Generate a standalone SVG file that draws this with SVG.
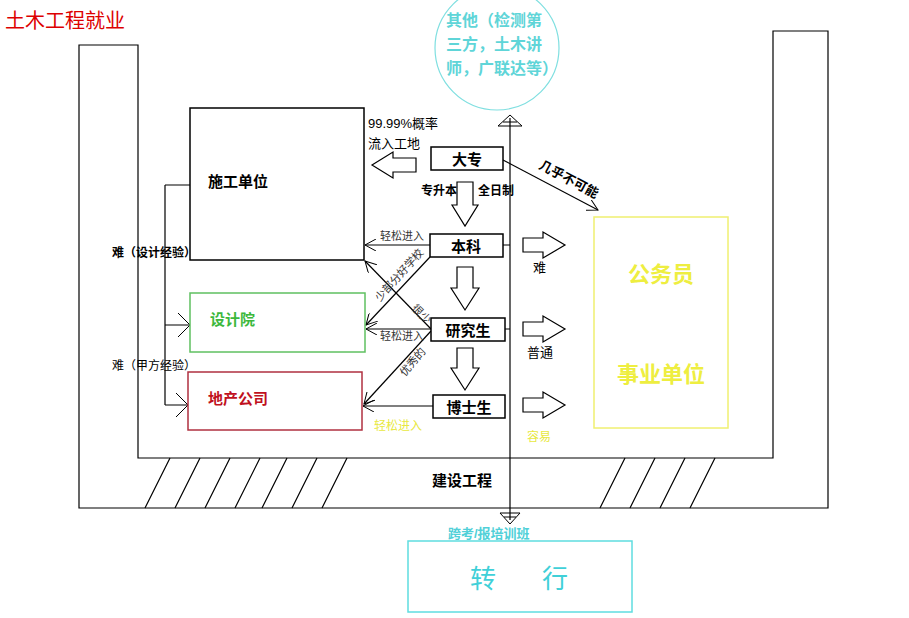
<svg xmlns="http://www.w3.org/2000/svg" width="909" height="618" viewBox="0 0 909 618">
<style>
text{font-family:"Liberation Sans","Noto Sans CJK SC",sans-serif}
.l{fill:none;stroke:#000;stroke-width:1.2}
.b{fill:#fff;stroke:#000;stroke-width:1.5}
.h{fill:#fff;stroke:#000;stroke-width:1.2}
.t{font-size:15px;font-weight:bold;fill:#000}
.s{font-size:11px;fill:#333}
</style>
<defs>
<marker id="a" markerWidth="12" markerHeight="12" refX="11" refY="6" orient="auto" markerUnits="userSpaceOnUse"><path d="M0,0 L11,6 L0,12" fill="none" stroke="#000"/></marker>
</defs>
<rect width="909" height="618" fill="#fff"/>
<text x="5" y="28" font-size="20" fill="#d00">土木工程就业</text>
<g id="frame" class="l">
<path d="M79,45 H138 V458 H773 V31 H828 V508 H79 Z"/>
<path d="M145,508 L170,458 M175,508 L200,458 M205,508 L230,458 M235,508 L260,458 M262,508 L287,458 M292,508 L317,458 M322,508 L347,458 M600,508 L625,458 M630,508 L655,458 M660,508 L685,458 M690,508 L715,458"/>
</g>
<text x="432" y="486" class="t">建设工程</text>
<g id="other"><circle cx="497" cy="48" r="62" fill="none" stroke="#7fdfe0" stroke-width="1.2"/>
<text font-size="16" font-weight="bold" fill="#5fd5d8"><tspan x="446" y="26">其他（检测第</tspan><tspan x="446" y="50">三方，土木讲</tspan><tspan x="446" y="74">师，广联达等）</tspan></text></g>
<g id="connectors">
<path class="l" d="M510,118 V520"/>
<path d="M498,126 L510,115 L522,126 Z M503,122 L517,122" fill="none" stroke="#000"/>
<path d="M500,513 L510,524 L520,513 Z M504,517 L516,517" fill="none" stroke="#000"/>
<path class="l" d="M430,245 H365" marker-end="url(#a)"/>
<path class="l" d="M431,329 H366" marker-end="url(#a)"/>
<path class="l" d="M430,257 L366,325" marker-end="url(#a)"/>
<path class="l" d="M431,329 L365,261" marker-end="url(#a)"/>
<path class="l" d="M431,331 L364,404" marker-end="url(#a)"/>
<path class="l" d="M433,406 H363" marker-end="url(#a)"/>
<path class="l" d="M503,160 L598,210" marker-end="url(#a)"/>
<path class="l" d="M165,185 H190 M165,185 V405 M165,325 H190 M165,405 H188"/>
<path d="M178,313 L190,325 L178,337 M176,393 L188,405 L176,417" fill="none" stroke="#000"/>
<path class="l" d="M503,245 H510 M505,329 H510"/>
<polygon class="h" points="416,158 393,158 393,152 372,165 393,178 393,172 416,172"/>
<polygon class="h" points="457,182 473,182 473,205 478,205 465,226 452,205 457,205"/>
<polygon class="h" points="457,267 473,267 473,288 479,288 465,310 451,288 457,288"/>
<polygon class="h" points="457,348 473,348 473,368 479,368 465,390 451,368 457,368"/>
<polygon class="h" points="523,238 543,238 543,232 565,245 543,258 543,252 523,252"/>
<polygon class="h" points="523,322 543,322 543,316 565,329 543,342 543,336 523,336"/>
<polygon class="h" points="523,398 543,398 543,392 565,405 543,418 543,412 523,412"/>
</g>
<g id="n-sg"><rect x="190" y="108" width="174" height="152" class="b"/><text x="208" y="187" class="t">施工单位</text></g>
<g id="n-sjy"><rect x="190" y="293" width="175" height="59" fill="#fff" stroke="#5fc060" stroke-width="1.5"/><text x="210" y="325" class="t" fill="#3cb83c" style="fill:#3cb83c">设计院</text></g>
<g id="n-dc"><rect x="188" y="372" width="174" height="58" fill="#fff" stroke="#b03040" stroke-width="1.5"/><text x="208" y="404" class="t" style="fill:#c01020">地产公司</text></g>
<g id="n-dz"><rect x="431" y="147" width="72" height="23" class="b"/><text x="467" y="165" class="t" text-anchor="middle">大专</text></g>
<g id="n-bk"><rect x="430" y="234" width="73" height="23" class="b"/><text x="466" y="252" class="t" text-anchor="middle">本科</text></g>
<g id="n-yjs"><rect x="431" y="318" width="74" height="23" class="b"/><text x="468" y="336" class="t" text-anchor="middle">研究生</text></g>
<g id="n-bss"><rect x="433" y="395" width="72" height="23" class="b"/><text x="469" y="413" class="t" text-anchor="middle">博士生</text></g>
<g id="n-gwy"><rect x="594" y="217" width="134" height="211" fill="#fff" stroke="#f0f070" stroke-width="1.5"/>
<text x="661" y="282" font-size="22" font-weight="bold" fill="#eeee40" text-anchor="middle">公务员</text>
<text x="661" y="382" font-size="22" font-weight="bold" fill="#eeee40" text-anchor="middle">事业单位</text></g>
<g id="n-zh"><rect x="408" y="541" width="224" height="71" fill="#fff" stroke="#5fdde0" stroke-width="1.5"/>
<text x="470" y="588" font-size="26" fill="#40d0d8">转</text><text x="542" y="588" font-size="26" fill="#40d0d8">行</text></g>
<g id="labels">
<text x="368" y="128" font-size="13" fill="#000">99.99%概率</text>
<text x="368" y="148" font-size="13" fill="#000">流入工地</text>
<text x="421" y="195" font-size="12" font-weight="bold">专升本</text>
<text x="478" y="195" font-size="12" font-weight="bold">全日制</text>
<text x="380" y="240" class="s">轻松进入</text>
<text x="380" y="340" class="s">轻松进入</text>
<text x="374" y="430" font-size="12" fill="#e8e840">轻松进入</text>
<text class="s" transform="translate(380,302) rotate(-48)">少部分好学校</text>
<text class="s" transform="translate(411,309) rotate(45)">很少</text>
<text class="s" transform="translate(405,377) rotate(-50)">优秀的</text>
<text font-size="13" font-weight="bold" transform="translate(538,168) rotate(28)">几乎不可能</text>
<text x="533" y="272" font-size="13">难</text>
<text x="527" y="357" font-size="13">普通</text>
<text x="527" y="441" font-size="12" fill="#e8e840">容易</text>
<text x="112" y="257" font-size="12" font-weight="bold">难（设计经验）</text>
<text x="112" y="370" font-size="12">难（甲方经验）</text>
<text x="448" y="538" font-size="13" font-weight="bold" fill="#50d0d8">跨考/报培训班</text>
</g>
</svg>
